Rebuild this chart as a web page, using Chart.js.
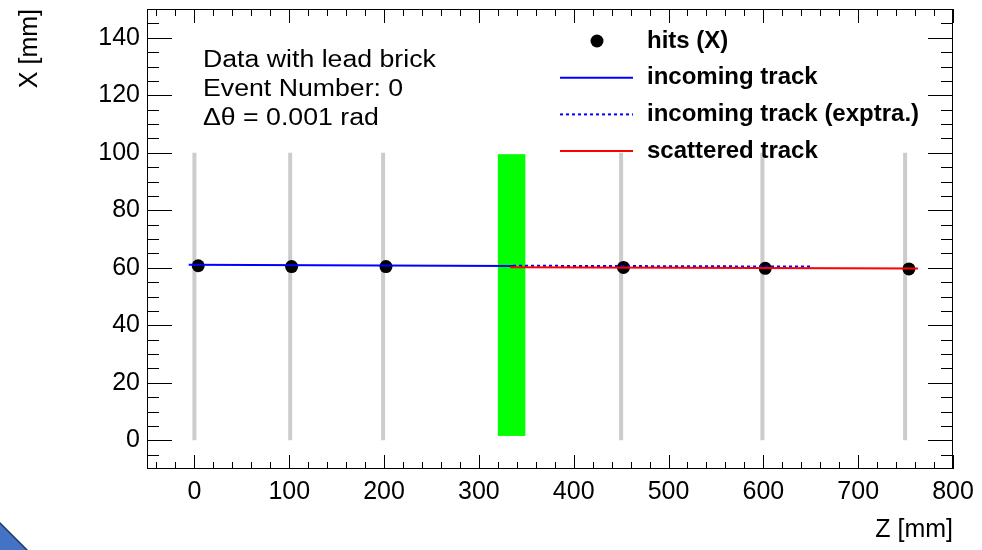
<!DOCTYPE html>
<html>
<head>
<meta charset="utf-8">
<title>Event display</title>
<script src="https://cdn.jsdelivr.net/npm/chart.js@4.4.1/dist/chart.umd.min.js"></script>
<style>
  html, body { margin: 0; padding: 0; background: #fff; }
  #wrap { position: relative; width: 982px; height: 550px; overflow: hidden; }
  #corner { position: absolute; left: 0; bottom: 0; }
</style>
</head>
<body>
<div id="wrap">
  <canvas id="evt" width="982" height="550"></canvas>
  <svg id="corner" width="30" height="30" viewBox="0 0 30 30">
    <polygon points="-2,1 28,31 -2,31" fill="#4472c4" stroke="#1f3864" stroke-width="1.5"/>
  </svg>
</div>
<script>
// hits measured in the six tracking planes (Z, X in mm)
const hitZ = [4, 102.5, 202, 452.5, 602, 753.5];
const hitX = [60.7, 60.4, 60.4, 60.1, 59.8, 59.6];

// tracking planes and the lead brick
const planeZ = [0, 101, 199, 450, 599, 749.5];
const planeX = [0, 100];
const brickZ = [320, 349];
const brickX = [1.5, 99.5];

// fitted tracks (end points)
const incomingZ = [-6, 336];
const incomingX = [61.05, 60.6];
const extrapZ = [336, 651];
const extrapX = [60.7, 60.4];
const scatteredZ = [333, 763];
const scatteredX = [60.15, 59.7];

// axis labels
const zTicks = [0, 100, 200, 300, 400, 500, 600, 700, 800];
const xTicks = [0, 20, 40, 60, 80, 100, 120, 140];

const infoLines = ['Data with lead brick', 'Event Number: 0', '\u0394\u03b8 = 0.001 rad'];

const FONT = '"Liberation Sans", Arial, Helvetica, sans-serif';
Chart.defaults.font.family = FONT;
Chart.defaults.color = '#000';

const pts = (zs, xs) => zs.map((z, i) => ({x: z, y: xs[i]}));
// each plane is a vertical segment, separated by a gap point
const planePts = planeZ.flatMap(z => [{x: z, y: planeX[0]}, {x: z, y: planeX[1]}, {x: z, y: null}]);

// ROOT-like frame: brick, box, inner ticks on all sides, text and legend
const rootStyle = {
  id: 'rootStyle',
  beforeDatasetsDraw(chart) {
    const {ctx, scales: {x, y}} = chart;
    const l = x.getPixelForValue(brickZ[0]), r = x.getPixelForValue(brickZ[1]);
    const t = y.getPixelForValue(brickX[1]), b = y.getPixelForValue(brickX[0]);
    ctx.save();
    ctx.fillStyle = '#00ff00';
    ctx.fillRect(l, t, r - l, b - t);
    ctx.restore();
  },
  afterDraw(chart) {
    const {ctx, chartArea: a, scales: {x, y}} = chart;
    ctx.save();
    ctx.strokeStyle = '#000';
    ctx.lineWidth = 1;
    ctx.strokeRect(a.left + 0.5, a.top + 0.5, a.right - a.left - 1, a.bottom - a.top - 1);

    ctx.beginPath();
    for (let v = -40; v <= 800; v += 20) {
      const px = Math.round(x.getPixelForValue(v)) + 0.5;
      const len = v % 100 === 0 ? 14 : 7;
      ctx.moveTo(px, a.bottom); ctx.lineTo(px, a.bottom - len);
      ctx.moveTo(px, a.top); ctx.lineTo(px, a.top + len);
    }
    for (let v = -5; v <= 150; v += 5) {
      const py = Math.round(y.getPixelForValue(v)) + 0.5;
      const len = v % 20 === 0 ? 25 : 12;
      ctx.moveTo(a.left, py); ctx.lineTo(a.left + len, py);
      ctx.moveTo(a.right, py); ctx.lineTo(a.right - len, py);
    }
    ctx.stroke();

    // event info
    ctx.fillStyle = '#000';
    ctx.font = '23px ' + FONT;
    ctx.textBaseline = 'alphabetic';
    ctx.textAlign = 'left';
    infoLines.forEach((s, i) => {
      ctx.save();
      ctx.translate(203, 67 + 29 * i);
      ctx.scale(1.16, 1);
      ctx.fillText(s, 0, 0);
      ctx.restore();
    });

    // legend
    ctx.font = 'bold 24px ' + FONT;
    ctx.textBaseline = 'middle';
    const entries = chart.data.datasets.filter(d => d.inLegend).sort((p, q) => p.inLegend - q.inLegend);
    entries.forEach((ds, i) => {
      const yy = 41 + i * 36.7;
      if (ds.showLine) {
        ctx.save();
        ctx.strokeStyle = ds.borderColor;
        ctx.lineWidth = 2;
        ctx.setLineDash(ds.borderDash || []);
        ctx.beginPath();
        ctx.moveTo(560, yy); ctx.lineTo(633, yy);
        ctx.stroke();
        ctx.restore();
      } else {
        ctx.beginPath();
        ctx.arc(597, yy, 6.5, 0, Math.PI * 2);
        ctx.fillStyle = ds.backgroundColor;
        ctx.fill();
      }
      ctx.fillStyle = '#000';
      ctx.fillText(ds.label, 647, yy);
    });
    ctx.restore();
  }
};

new Chart(document.getElementById('evt'), {
  type: 'scatter',
  data: {
    datasets: [
      {
        label: 'scattered track', inLegend: 4, order: 0,
        data: pts(scatteredZ, scatteredX), showLine: true,
        borderColor: '#ff0000', borderWidth: 2, pointRadius: 0
      },
      {
        label: 'incoming track (exptra.)', inLegend: 3, order: 1,
        data: pts(extrapZ, extrapX), showLine: true,
        borderColor: '#0000ff', borderWidth: 2, borderDash: [3, 3], pointRadius: 0
      },
      {
        label: 'incoming track', inLegend: 2, order: 2,
        data: pts(incomingZ, incomingX), showLine: true,
        borderColor: '#0000ff', borderWidth: 2, pointRadius: 0
      },
      {
        label: 'hits (X)', inLegend: 1, order: 3,
        data: pts(hitZ, hitX), showLine: false,
        backgroundColor: '#000', borderWidth: 0, pointRadius: 6.5
      },
      {
        label: 'planes', order: 4,
        data: planePts, showLine: true, spanGaps: false,
        borderColor: '#cccccc', borderWidth: 4, pointRadius: 0
      }
    ]
  },
  options: {
    responsive: false,
    animation: false,
    events: [],
    layout: { padding: { top: 9, right: 29, bottom: 0, left: 0 } },
    plugins: { legend: { display: false }, tooltip: { enabled: false } },
    scales: {
      x: {
        type: 'linear', position: 'bottom', min: -50, max: 800,
        afterBuildTicks: s => { s.ticks = zTicks.map(v => ({value: v})); },
        afterFit: s => { s.height = 81; s.paddingLeft = 0; s.paddingRight = 0; },
        grid: { display: false, drawTicks: false },
        border: { display: false },
        ticks: { font: { size: 25 }, color: '#000', padding: 8, maxRotation: 0, autoSkip: false },
        title: { display: true, text: 'Z [mm]', align: 'end', font: { size: 25 }, color: '#000', padding: { top: 0, bottom: 5 } }
      },
      y: {
        type: 'linear', min: -10, max: 150,
        afterBuildTicks: s => { s.ticks = xTicks.map(v => ({value: v})); },
        afterFit: s => { s.width = 147; s.paddingTop = 0; s.paddingBottom = 0; },
        grid: { display: false, drawTicks: false },
        border: { display: false },
        ticks: { font: { size: 25 }, color: '#000', padding: 7 },
        title: { display: true, text: 'X [mm]', align: 'end', font: { size: 25 }, color: '#000', padding: { top: 15, bottom: 0 } }
      }
    }
  },
  plugins: [rootStyle]
});
</script>
</body>
</html>
